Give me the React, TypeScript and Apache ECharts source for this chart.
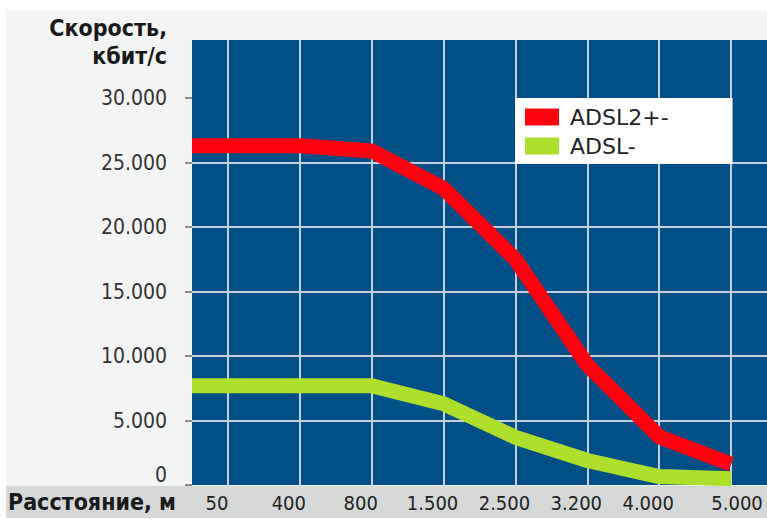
import React, { useEffect, useRef } from "react";
import * as echarts from "echarts";

const categories = ["50", "400", "800", "1.500", "2.500", "3.200", "4.000", "5.000"];
const adsl2Values = [26300, 26300, 25900, 23000, 17500, 9300, 3750, 1600];
const adslValues = [7700, 7700, 7700, 6300, 3700, 1900, 650, 480];
const yTicks = [0, 5000, 10000, 15000, 20000, 25000, 30000];
const seriesNames = ["ADSL2+-", "ADSL-"];
const yTitle = "Скорость,\nкбит/с";
const xTitle = "Расстояние, м";
const yMax = 34500;

const fmt = (v: number) => String(v).replace(/\B(?=(\d{3})+(?!\d))/g, ".");
// each category sits on the odd slot 2i+1 of a 0..2n value axis, so its gridline runs through it
const slot = (i: number) => 2 * i + 1;
const toLine = (vals: number[]) => [[0, vals[0]], ...vals.map((v, i) => [slot(i), v])];

const RED = "#ff0010";
const GREEN = "#aedf2b";
const GRID = "#c3d0dc";
const COND = "'DejaVu Sans Condensed', 'DejaVu Sans', sans-serif";

export default function App() {
  const ref = useRef<HTMLDivElement>(null);
  useEffect(() => {
    if (!ref.current) return;
    const chart = echarts.init(ref.current, undefined, { renderer: "svg" });
    const last = categories.length - 1;
    chart.setOption({
      animation: false,
      backgroundColor: "#f3f4f4",
      grid: {
        left: 192,
        top: 40,
        right: 0,
        bottom: 35,
        show: true,
        backgroundColor: "#004f87",
        borderWidth: 0,
      },
      xAxis: [
        {
          type: "value",
          min: 0,
          max: categories.length * 2,
          interval: 2,
          axisLabel: { show: false },
          axisLine: { show: false },
          axisTick: { show: false },
          splitLine: { show: false },
          minorTick: { show: false, splitNumber: 2 },
          minorSplitLine: { show: true, lineStyle: { color: GRID, width: 2 } },
        },
        {
          type: "category",
          boundaryGap: true,
          position: "bottom",
          data: categories.map((c, i) =>
            i === last ? { value: c, textStyle: { padding: [0, 0, 0, 12] } } : c
          ),
          axisLine: { show: false },
          axisTick: { show: false },
          splitLine: { show: false },
          axisLabel: {
            color: "#222",
            fontFamily: COND,
            fontSize: 20,
            margin: 8,
            padding: [0, 22, 0, 0],
          },
        },
      ],
      yAxis: {
        type: "value",
        min: 0,
        max: yMax,
        interval: 5000,
        axisLine: { show: false },
        axisTick: {
          show: true,
          length: 7,
          customValues: yTicks,
          lineStyle: { color: "#8c8c8c", width: 2 },
        },
        axisLabel: {
          customValues: yTicks,
          formatter: fmt,
          color: "#333",
          fontFamily: COND,
          fontSize: 21,
          margin: 25,
          verticalAlignMinLabel: "bottom",
        },
        splitLine: {
          show: true,
          showMinLine: false,
          showMaxLine: false,
          lineStyle: { color: GRID, width: 2 },
        },
      },
      legend: {
        data: seriesNames,
        orient: "vertical",
        left: 515,
        top: 98,
        padding: [7, 64, 6, 10],
        backgroundColor: "#ffffff",
        itemWidth: 34,
        itemHeight: 17,
        itemGap: 5,
        icon: "rect",
        selectedMode: false,
        textStyle: {
          fontFamily: "'DejaVu Sans', sans-serif",
          fontSize: 22,
          color: "#222",
          lineHeight: 24,
          padding: [0, 0, 0, 6],
        },
      },
      series: [
        {
          name: seriesNames[1],
          type: "line",
          xAxisIndex: 0,
          data: toLine(adslValues),
          symbol: "none",
          showSymbol: false,
          lineStyle: { color: GREEN, width: 15 },
          itemStyle: { color: GREEN },
          z: 2,
        },
        {
          name: seriesNames[0],
          type: "line",
          xAxisIndex: 0,
          data: toLine(adsl2Values),
          symbol: "none",
          showSymbol: false,
          lineStyle: { color: RED, width: 15 },
          itemStyle: { color: RED },
          z: 3,
        },
      ],
      graphic: [
        { type: "rect", z: -1, shape: { x: 0, y: 0, width: 767, height: 10 }, style: { fill: "#ffffff" } },
        { type: "rect", z: -1, shape: { x: 0, y: 0, width: 6, height: 520 }, style: { fill: "#ffffff" } },
        { type: "rect", z: -1, shape: { x: 0, y: 518, width: 767, height: 2 }, style: { fill: "#ffffff" } },
        { type: "rect", z: -1, shape: { x: 6, y: 486, width: 761, height: 32 }, style: { fill: "#d6d8d8" } },
        {
          type: "text",
          x: 167,
          y: 14,
          style: {
            text: yTitle,
            align: "right",
            verticalAlign: "top",
            font: `bold 23px ${COND}`,
            lineHeight: 28,
            fill: "#1a1a1a",
          },
        },
        {
          type: "text",
          x: 8,
          y: 502,
          style: {
            text: xTitle,
            align: "left",
            verticalAlign: "middle",
            font: `bold 23px ${COND}`,
            fill: "#1a1a1a",
          },
        },
      ],
    });
    return () => chart.dispose();
  }, []);
  return (
    <div
      ref={ref}
      style={{ position: "absolute", left: 0, top: 0, width: 767, height: 520 }}
    />
  );
}
